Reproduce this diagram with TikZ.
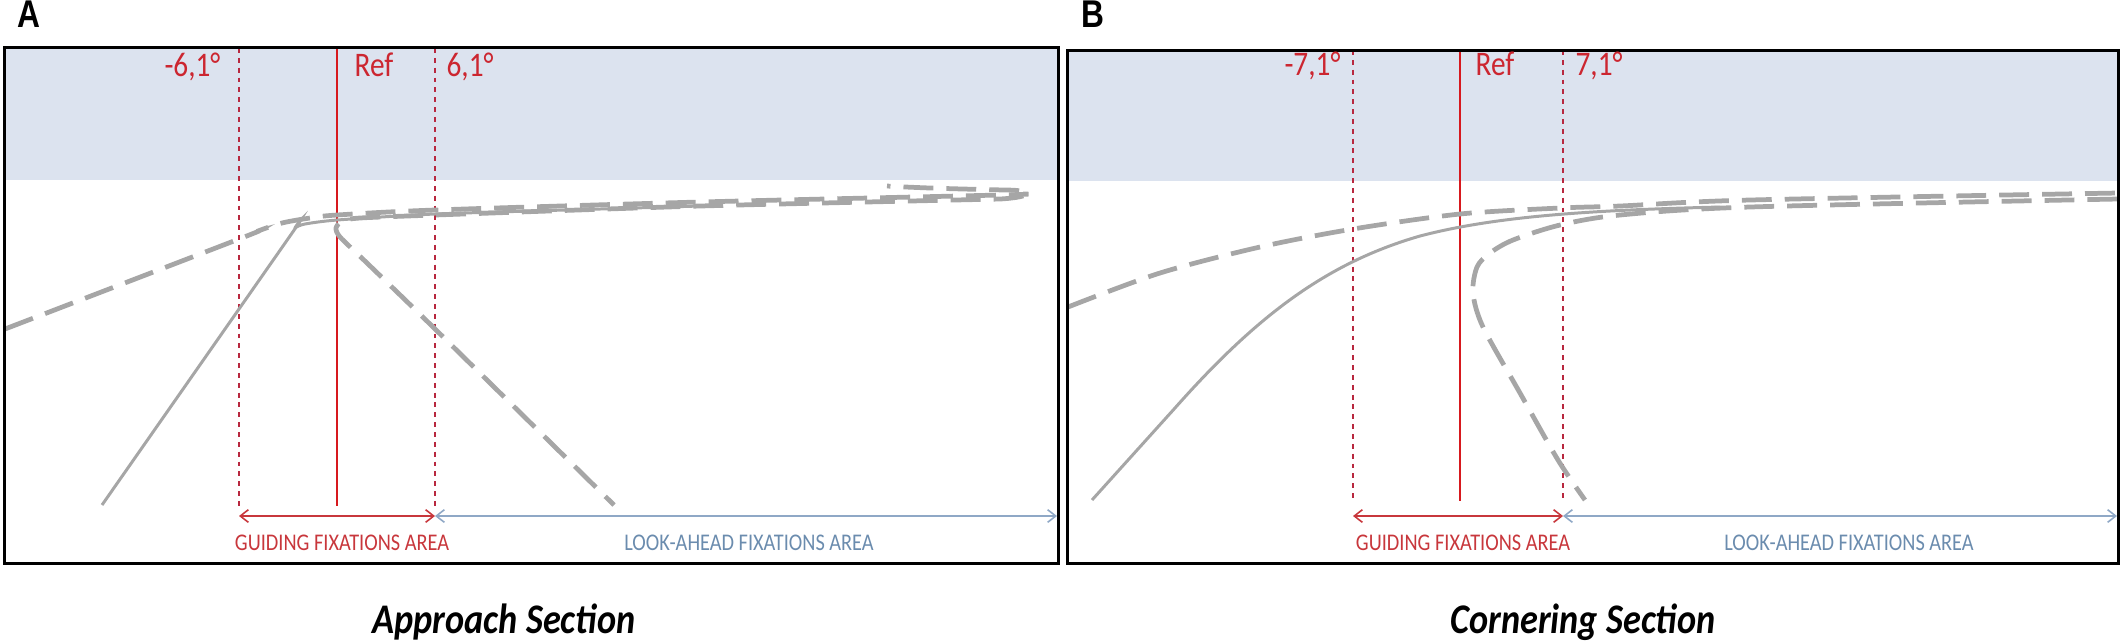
\documentclass[tikz,border=0pt]{standalone}
\usepackage{fontspec}
\setmainfont{Carlito}
\newfontfamily\panelfont{Liberation Sans}
\usetikzlibrary{arrows.meta}
\definecolor{skyfill}{HTML}{DCE3EF}
\definecolor{refred}{HTML}{D7191E}
\definecolor{limred}{HTML}{B8283F}
\definecolor{txtred}{HTML}{CC2630}
\definecolor{guidered}{HTML}{C8373C}
\definecolor{lookblue}{HTML}{6B8CAE}
\definecolor{arrblue}{HTML}{8FA8C6}
\definecolor{pathgray}{HTML}{A6A6A6}
\tikzset{
  frame/.style={draw=black, line width=0.85pt},
  gdash/.style={draw=pathgray, line width=1.35pt, dash pattern=on 8.5pt off 3.7pt},
  gsolid/.style={draw=pathgray, line width=0.85pt},
  refline/.style={draw=refred, line width=0.8pt},
  limline/.style={draw=limred, line width=0.6pt, dash pattern=on 1.4pt off 1.4pt},
  anglbl/.style={text=txtred, font=\fontsize{9.8}{11}\selectfont, inner sep=0pt, xscale=0.85},
  areatxt/.style={font=\fontsize{6.8}{8}\selectfont, inner sep=0pt, xscale=0.85},
  barbs/.style={{Straight Barb[length=2.3pt,width=3.6pt]}-{Straight Barb[length=2.3pt,width=3.6pt]}},
  guidearrow/.style={draw=guidered, line width=0.45pt, barbs},
  lookarrow/.style={draw=arrblue, line width=0.45pt, barbs},
  paneltag/.style={font=\panelfont\bfseries\fontsize{11}{13}\selectfont, inner sep=0pt, anchor=base, xscale=0.82},
  sectitle/.style={font=\bfseries\itshape\fontsize{12}{14}\selectfont, inner sep=0pt, anchor=base, xscale=0.86}
}
\begin{document}
\begin{tikzpicture}[x=0.01cm, y=-0.01cm]
\useasboundingbox (0,0) rectangle (2126,641);

% ---------------- Panel A ----------------
\fill[skyfill] (4.5,47.5) rectangle (1058,180);
\draw[limline] (239,48) -- (239,506);
\draw[limline] (435,48) -- (435,506);
\draw[refline] (337,49) -- (337,506);

% outer dashed path A
\draw[gdash] plot[smooth, tension=0.5] coordinates {(5,329) (239,239) (258,231) (282,223) (310,218) (337,215) (435,210) (700,202) (1000,195) (1023,194)};
% solid path A
\draw[gsolid] plot[smooth, tension=0.4] coordinates {(102,505) (290,236) (295,228) (305,224) (337,220) (435,214) (600,209) (700,206)};
% inner dashed path A with hairpin
\draw[gdash, dash phase=5pt] plot[smooth, tension=0.4] coordinates {(614,505) (433,327) (367,263) (340,237) (336,228) (342,221) (360,218) (435,215) (700,206) (1000,199)}
  .. controls (1035,197) and (1035,190) .. (1005,190) .. controls (960,189) and (920,188) .. (887,186);

\draw[frame] (4.5,47.5) rectangle (1058,563);

\node[anglbl, anchor=base east] (a-neg) at (221,76) {-6,1°};
\node[anglbl, anchor=base west] (a-ref) at (354,76) {Ref};
\node[anglbl, anchor=base west] (a-pos) at (446,76) {6,1°};

\coordinate (a-g1) at (239,516);
\coordinate (a-g2) at (435,516);
\coordinate (a-g3) at (1057,516);
\draw[guidearrow] (a-g1) -- (a-g2);
\draw[lookarrow] (a-g2) -- (a-g3);
\node[areatxt, text=guidered, anchor=base] (a-guide) at (342,550) {GUIDING FIXATIONS AREA};
\node[areatxt, text=lookblue, anchor=base] (a-look) at (749,550) {LOOK-AHEAD FIXATIONS AREA};

\node[paneltag] (tagA) at (29,27) {A};
\node[sectitle] (titleA) at (504,633) {Approach Section};

% ---------------- Panel B ----------------
\fill[skyfill] (1067,50) rectangle (2118,181);
\draw[limline] (1353,50) -- (1353,501);
\draw[limline] (1563,50) -- (1563,501);
\draw[refline] (1460,50) -- (1460,501);

% outer dashed path B
\draw[gdash] plot[smooth, tension=0.5] coordinates {(1068,307) (1160,273) (1260,247) (1353,229) (1460,214) (1560,208) (1620,206) (1750,200) (2118,193)};
% solid path B
\draw[gsolid] (1092,500) -- (1175,408) .. controls (1260,312) and (1330,262) .. (1420,236)
  .. controls (1500,215) and (1600,210) .. (1720,207);
% inner dashed path B
\draw[gdash, dash phase=4pt] plot[smooth, tension=0.5] coordinates {(1585,500) (1558,460) (1520,393) (1483,327) (1473,293) (1477,267) (1490,253) (1513,240) (1560,225) (1620,215) (1750,207) (2118,199)};

\draw[frame] (1067,50) rectangle (2118,563);

\node[anglbl, anchor=base east] (b-neg) at (1341,75) {-7,1°};
\node[anglbl, anchor=base west] (b-ref) at (1475,75) {Ref};
\node[anglbl, anchor=base west] (b-pos) at (1575,75) {7,1°};

\coordinate (b-g1) at (1353,516);
\coordinate (b-g2) at (1563,516);
\coordinate (b-g3) at (2117,516);
\draw[guidearrow] (b-g1) -- (b-g2);
\draw[lookarrow] (b-g2) -- (b-g3);
\node[areatxt, text=guidered, anchor=base] (b-guide) at (1463,550) {GUIDING FIXATIONS AREA};
\node[areatxt, text=lookblue, anchor=base] (b-look) at (1849,550) {LOOK-AHEAD FIXATIONS AREA};

\node[paneltag] (tagB) at (1093,27) {B};
\node[sectitle] (titleB) at (1583,633) {Cornering Section};
\end{tikzpicture}
\end{document}
